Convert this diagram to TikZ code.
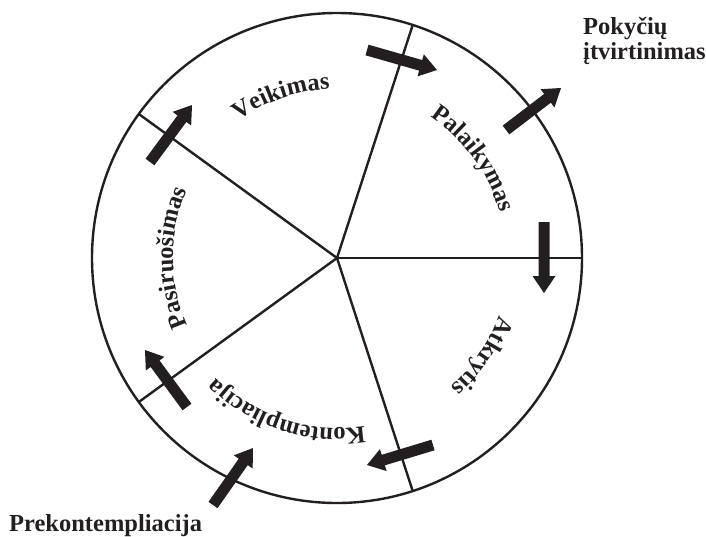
\documentclass[tikz,border=0pt]{standalone}
\usepackage{fontspec}
\setmainfont{Liberation Serif}
\usetikzlibrary{calc,decorations.text}
\definecolor{ink}{RGB}{35,31,32}
\newcommand{\labelfont}{\bfseries\fontsize{24.5}{25}\selectfont}
\newcommand{\blockarrow}[2]{%
  \coordinate (ba-h) at ($(#2)!17pt!(#1)$);
  \fill[ink] ($(#1)!5.5pt!90:(#2)$) -- ($(ba-h)!5.5pt!-90:(#1)$) -- ($(ba-h)!11.5pt!-90:(#1)$) -- (#2)
    -- ($(ba-h)!11.5pt!90:(#1)$) -- ($(ba-h)!5.5pt!90:(#1)$) -- ($(#1)!5.5pt!-90:(#2)$) -- cycle;}
\newcommand{\arclabel}[4]{%
  \path[decorate,decoration={text along path,text align=center,text color=ink,text={|\labelfont|#1}}]
    ([shift={(c)}]#2+#3:#4pt) arc[start angle=#2+#3, end angle=#2-#3, radius=#4pt];}
\begin{document}
\begin{tikzpicture}[x=1pt,y=-1pt,
  ring/.style={draw=ink,line width=2.4pt},
  spoke/.style={draw=ink,line width=2.4pt},
  outer/.style={font=\labelfont,text=ink,inner sep=0pt}]
\useasboundingbox (0,0) rectangle (706,536);
\coordinate (c) at (337,258);
\draw[ring] (c) circle[radius=245pt];
\foreach \a/\n in {0/s0,72/s1,144/s2,216/s3,288/s4}{
  \coordinate (\n) at ([shift={(c)}]\a:245pt);
  \draw[spoke] (c) -- (\n);
}
% labels on arcs
\arclabel{Veikimas}{109}{60}{169}
\arclabel{Palaikymas}{36}{60}{169}
\arclabel{Atkrytis}{-34}{60}{172}
\arclabel{Kontempliacija}{-108}{60}{170}
\arclabel{Pasiruošimas}{180}{60}{164}
% arrows
\coordinate (a1s) at (367,50);  \coordinate (a1e) at (437,70);
\coordinate (a2s) at (506,130); \coordinate (a2e) at (561,88);
\coordinate (a3s) at (544,222); \coordinate (a3e) at (544,293);
\coordinate (a4s) at (433,445); \coordinate (a4e) at (367,465);
\coordinate (a5s) at (213,505); \coordinate (a5e) at (253,448);
\coordinate (a6s) at (187,407); \coordinate (a6e) at (145,350);
\coordinate (a7s) at (150,162); \coordinate (a7e) at (192,105);
\blockarrow{a1s}{a1e}
\blockarrow{a2s}{a2e}
\blockarrow{a3s}{a3e}
\blockarrow{a4s}{a4e}
\blockarrow{a5s}{a5e}
\blockarrow{a6s}{a6e}
\blockarrow{a7s}{a7e}
% outer labels
\node[outer,align=left,anchor=base west] (pok) at (583,59) {Pokyčių\\įtvirtinimas};
\node[outer,anchor=base west] (prek) at (9,531) {Prekontempliacija};
\end{tikzpicture}
\end{document}
